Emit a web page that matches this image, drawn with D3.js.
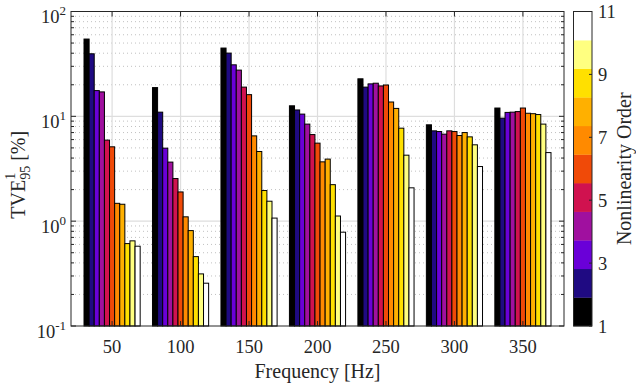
<!DOCTYPE html>
<html>
<head>
<meta charset="utf-8">
<script src="https://cdn.jsdelivr.net/npm/d3@7"></script>
<style>
  html, body { margin: 0; padding: 0; background: #fff; }
  svg { display: block; }
  svg text { font-family: "Liberation Serif", "Times New Roman", "DejaVu Serif", serif; }
</style>
</head>
<body>
<svg id="chart" width="636" height="390"></svg>
<script>
// ---- data ----
const frequencies = [50, 100, 150, 200, 250, 300, 350];
const orders = [1, 2, 3, 4, 5, 6, 7, 8, 9, 10, 11];
const tve50  = [54.6, 39.5, 17.6, 17.1, 5.93, 5.12, 1.48, 1.45, 0.611, 0.649, 0.577];
const tve100 = [18.8, 10.96, 4.97, 3.66, 2.55, 1.90, 1.10, 0.813, 0.459, 0.314, 0.256];
const tve150 = [44.8, 40.1, 31.0, 27.6, 19.0, 16.1, 6.51, 4.62, 1.96, 1.55, 1.07];
const tve200 = [12.6, 11.5, 10.5, 8.43, 6.70, 5.55, 3.68, 3.91, 2.23, 1.12, 0.785];
const tve250 = [22.8, 19.0, 20.4, 20.7, 19.5, 19.9, 13.7, 11.9, 7.71, 4.26, 2.08];
const tve300 = [8.30, 7.27, 7.16, 6.76, 7.27, 7.16, 6.56, 7.0, 6.37, 5.35, 3.32];
const tve350 = [12.0, 9.61, 10.9, 10.96, 11.1, 12.0, 10.7, 10.6, 10.4, 8.43, 4.51];
const tveByFreq = [tve50, tve100, tve150, tve200, tve250, tve300, tve350];
const orderColors = ["#000000", "#1f0a82", "#6a00d8", "#a0109f", "#d0124f", "#f04a08",
                     "#ff8a00", "#ffb000", "#ffe000", "#ffff80", "#ffffff"];
const yTickExps = [-1, 0, 1, 2];
const cbTicks = [1, 3, 5, 7, 9, 11];
const xLabel = "Frequency [Hz]";
const cbLabel = "Nonlinearity Order";

// ---- layout ----
const svg = d3.select("#chart");
const L = 71, R = 564, T = 11.5, B = 326;
const axisColor = "#262626";
const tickFont = 18.5, labelFont = 20;

const x = d3.scaleLinear().domain([20, 380]).range([L, R]);
const y = d3.scaleLog().domain([0.1, 100]).range([B, T]);
const groupHalf = 20.5; // Hz
const inner = d3.scaleBand().domain(orders).range([0, x(2 * groupHalf) - x(0)]).padding(0);
const color = d3.scaleOrdinal().domain(orders).range(orderColors);

// ---- grid ----
const grid = svg.append("g");
const minorVals = [];
for (let e = -1; e < 2; e++) for (let m = 2; m <= 9; m++) minorVals.push(m * Math.pow(10, e));
grid.selectAll("line.minor").data(minorVals).join("line")
  .attr("x1", L).attr("x2", R)
  .attr("y1", d => y(d)).attr("y2", d => y(d))
  .attr("stroke", "#b0b0b0").attr("stroke-width", 0.8)
  .attr("stroke-dasharray", "1,3");
grid.selectAll("line.major").data([1, 10]).join("line")
  .attr("x1", L).attr("x2", R)
  .attr("y1", d => y(d)).attr("y2", d => y(d))
  .attr("stroke", "#dedede").attr("stroke-width", 1.2);
grid.selectAll("line.vert").data(frequencies).join("line")
  .attr("x1", d => x(d)).attr("x2", d => x(d))
  .attr("y1", T).attr("y2", B)
  .attr("stroke", "#dedede").attr("stroke-width", 1.2);

// ---- bars ----
const groups = svg.append("g").selectAll("g").data(frequencies).join("g")
  .attr("transform", d => `translate(${x(d - groupHalf)},0)`);
groups.selectAll("rect").data((f, i) => tveByFreq[i].map((v, j) => ({ order: orders[j], v })))
  .join("rect")
  .attr("x", d => inner(d.order))
  .attr("width", inner.bandwidth())
  .attr("y", d => y(d.v))
  .attr("height", d => y(0.1) - y(d.v))
  .attr("fill", d => color(d.order))
  .attr("stroke", "#000").attr("stroke-width", 1);

// ---- axes box and ticks ----
const ax = svg.append("g").attr("stroke", axisColor).attr("fill", "none");
ax.append("rect").attr("x", L).attr("y", T).attr("width", R - L).attr("height", B - T)
  .attr("stroke-width", 1);
const majorVals = yTickExps.map(e => Math.pow(10, e));
[[L, 1], [R, -1]].forEach(([x0, dir]) => {
  ax.selectAll(null).data(majorVals).join("line")
    .attr("x1", x0).attr("x2", x0 + dir * 5)
    .attr("y1", d => y(d)).attr("y2", d => y(d)).attr("stroke-width", 1);
  ax.selectAll(null).data(minorVals).join("line")
    .attr("x1", x0).attr("x2", x0 + dir * 3)
    .attr("y1", d => y(d)).attr("y2", d => y(d)).attr("stroke-width", 1);
});
[[B, -1], [T, 1]].forEach(([y0, dir]) => {
  ax.selectAll(null).data(frequencies).join("line")
    .attr("x1", d => x(d)).attr("x2", d => x(d))
    .attr("y1", y0).attr("y2", y0 + dir * 5).attr("stroke-width", 1);
});

// y tick labels 10^e
const yl = svg.append("g").attr("fill", axisColor).attr("font-size", tickFont);
yTickExps.forEach(e => {
  const t = yl.append("text").attr("x", 66).attr("y", y(Math.pow(10, e)) + 11.5)
    .attr("text-anchor", "end");
  t.append("tspan").text("10");
  t.append("tspan").attr("dy", -8).attr("font-size", 13).text(e < 0 ? "-" + Math.abs(e) : String(e));
});

// x tick labels
svg.append("g").selectAll("text").data(frequencies).join("text")
  .attr("x", d => x(d)).attr("y", 352.5)
  .attr("text-anchor", "middle").attr("font-size", tickFont).attr("fill", axisColor)
  .text(d => d);

// x label
svg.append("text").attr("x", (L + R) / 2).attr("y", 378)
  .attr("text-anchor", "middle").attr("font-size", labelFont).attr("fill", axisColor)
  .text(xLabel);

// y label: TVE^1_95 [%]
const ylab = svg.append("text")
  .attr("transform", `translate(25,${(T + B) / 2 + 6}) rotate(-90)`)
  .attr("text-anchor", "middle").attr("font-size", labelFont).attr("fill", axisColor);
ylab.append("tspan").text("TVE");
ylab.append("tspan").attr("dy", -10).attr("font-size", 14).text("1");
ylab.append("tspan").attr("dx", -7).attr("dy", 15).attr("font-size", 14).text("95");
ylab.append("tspan").attr("dy", -5).text("\u00a0[%]");

// ---- colorbar ----
const cbL = 573.5, cbW = 18.5;
const cy = d3.scaleLinear().domain([1, 11]).range([B, T]);
const cbBand = (cy(1) - cy(11)) / orders.length;
const cb = svg.append("g");
cb.selectAll("rect").data(orders).join("rect")
  .attr("x", cbL).attr("width", cbW)
  .attr("y", (d, i) => B - (i + 1) * cbBand)
  .attr("height", cbBand + 0.3)
  .attr("fill", d => color(d));
cb.append("rect").attr("x", cbL).attr("y", T).attr("width", cbW).attr("height", B - T)
  .attr("fill", "none").attr("stroke", axisColor).attr("stroke-width", 1);
cb.selectAll("line.t").data(cbTicks).join("line")
  .attr("x1", cbL + cbW).attr("x2", cbL + cbW - 3)
  .attr("y1", d => cy(d)).attr("y2", d => cy(d))
  .attr("stroke", axisColor).attr("stroke-width", 1);
cb.selectAll("text").data(cbTicks).join("text")
  .attr("x", 598).attr("y", d => cy(d) + 6.5)
  .attr("font-size", tickFont).attr("fill", axisColor)
  .text(d => d);
svg.append("text")
  .attr("transform", `translate(631,${(T + B) / 2}) rotate(-90)`)
  .attr("text-anchor", "middle").attr("font-size", labelFont).attr("fill", axisColor)
  .text(cbLabel);
</script>
</body>
</html>
